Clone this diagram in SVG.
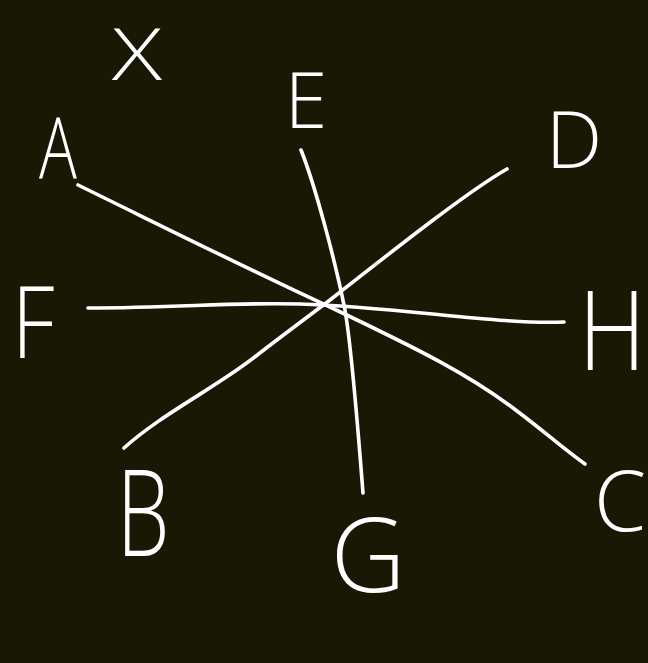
<svg xmlns="http://www.w3.org/2000/svg" width="648" height="663" viewBox="0 0 648 663">
<style>
.ln{fill:none;stroke:#ffffff;stroke-width:3.6;stroke-linecap:round;stroke-linejoin:round}
.lb{fill:#ffffff;font-family:"Open Sans","Liberation Sans",sans-serif;font-weight:300;text-anchor:middle}
</style>
<rect width="648" height="663" fill="#191804"/>
<g id="connectors">
<path class="ln" d="M78,185 C180,235 260,275 330,307 C420,350 470,375 517,411 C545,432 565,450 585,464"/>
<path class="ln" d="M507,169 C470,190 400,245 330,300 C290,330 270,345 256,356 C220,385 160,415 124,448"/>
<path class="ln" d="M301,150 C315,185 335,260 345,310 C352,350 358,430 363,493"/>
<path class="ln" d="M88,308 C180,308 230,302 300,304 C400,307 500,325 564,322"/>
</g>
<g id="node-X"><text class="lb" transform="translate(137,80) scale(1.3,1)" font-size="72">X</text></g>
<g id="node-A"><text class="lb" transform="translate(58,178) scale(0.75,1)" font-size="84">A</text></g>
<g id="node-E"><text class="lb" x="306" y="128" font-size="77">E</text></g>
<g id="node-D"><text class="lb" x="574" y="168" font-size="80">D</text></g>
<g id="node-F"><text class="lb" transform="translate(33,358) scale(0.85,1)" font-size="100">F</text></g>
<g id="node-H"><text class="lb" transform="translate(612,370) scale(0.85,1)" font-size="110">H</text></g>
<g id="node-B"><text class="lb" transform="translate(143,556) scale(0.7,1)" font-size="120">B</text></g>
<g id="node-G"><text class="lb" x="368" y="592" font-size="104">G</text></g>
<g id="node-C"><text class="lb" x="620" y="531" font-size="84">C</text></g>
</svg>
